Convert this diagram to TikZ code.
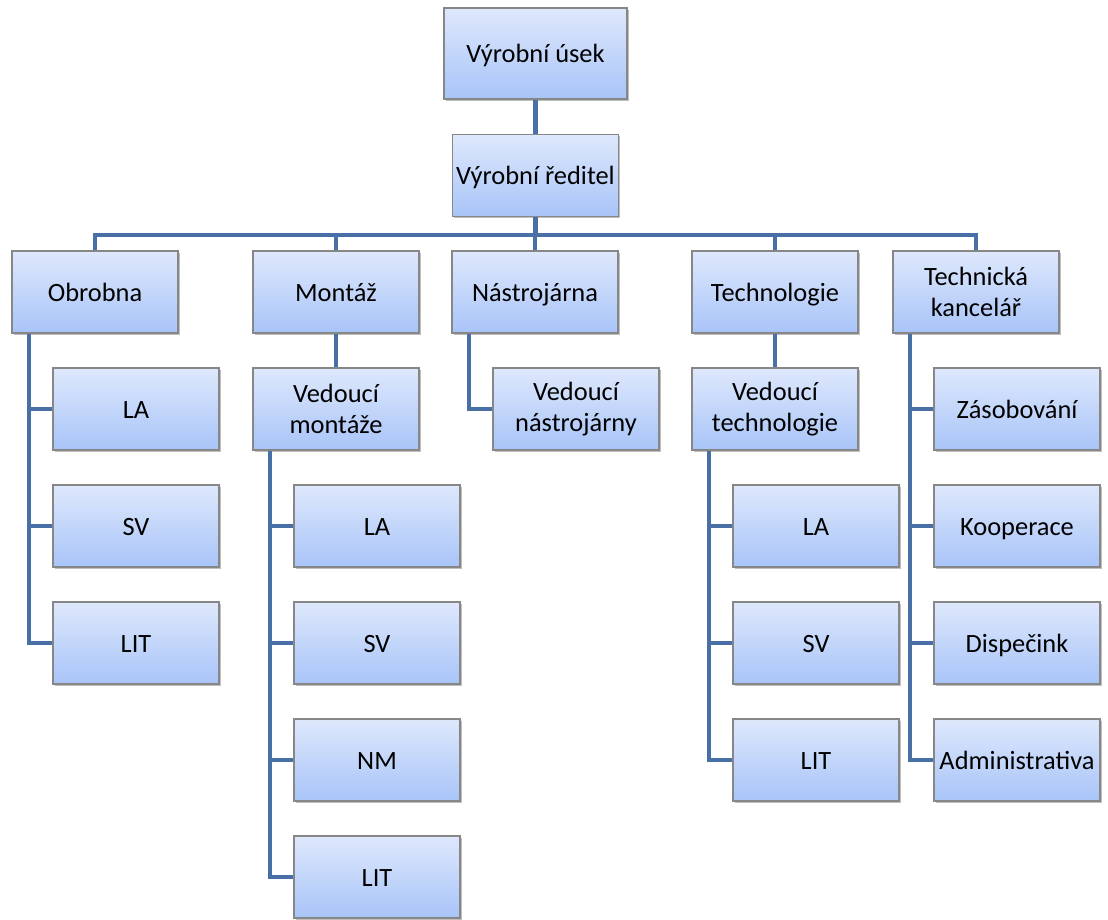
\documentclass[tikz,border=0pt]{standalone}
\usepackage{fontspec}
\setmainfont{Carlito}
\usetikzlibrary{shadows,calc}
\definecolor{boxtop}{RGB}{222,232,252}
\definecolor{boxbot}{RGB}{168,196,248}
\definecolor{boxedge}{RGB}{135,135,135}
\definecolor{linkblue}{RGB}{72,112,166}
\tikzset{
  unitbox/.style={draw=boxedge, line width=0.6pt, top color=boxtop, bottom color=boxbot,
    minimum width=83pt, minimum height=41pt, inner sep=1pt, align=center,
    font=\fontsize{13.2}{15.5}\selectfont,
    general shadow={shadow xshift=0.8pt, shadow yshift=-0.8pt, fill=black, opacity=0.25}},
  oneline/.style={unitbox, text height=9.3pt, text depth=0pt},
  headbox/.style={oneline, minimum width=91.5pt, minimum height=45.5pt},
  link/.style={draw=linkblue, line width=2.4pt}
}
\begin{document}
\begin{tikzpicture}[x=0.5pt, y=-0.5pt]
\useasboundingbox (0,0) rectangle (1108,920);

% top of the hierarchy
\node[headbox] (usek) at (535.5,53.5) {Výrobní úsek};
\node[oneline] (red) at (535.5,175.5) {Výrobní ředitel};

% departments
\node[oneline] (obr) at (95,292) {Obrobna};
\node[oneline] (mon) at (336,292) {Montáž};
\node[oneline] (nas) at (535,292) {Nástrojárna};
\node[oneline] (tec) at (775,292) {Technologie};
\node[unitbox] (tk)  at (976,292) {Technická\\kancelář};

% Obrobna
\node[oneline] (obrLA)  at (136,409) {LA};
\node[oneline] (obrSV)  at (136,526) {SV};
\node[oneline] (obrLIT) at (136,643) {LIT};

% Montáž
\node[unitbox] (vm)     at (336,409) {Vedoucí\\montáže};
\node[oneline] (monLA)  at (377,526) {LA};
\node[oneline] (monSV)  at (377,643) {SV};
\node[oneline] (monNM)  at (377,760) {NM};
\node[oneline] (monLIT) at (377,877) {LIT};

% Nástrojárna
\node[unitbox] (vn) at (576,409) {Vedoucí\\nástrojárny};

% Technologie
\node[unitbox] (vt)     at (775,409) {Vedoucí\\technologie};
\node[oneline] (tecLA)  at (816,526) {LA};
\node[oneline] (tecSV)  at (816,643) {SV};
\node[oneline] (tecLIT) at (816,760) {LIT};

% Technická kancelář
\node[oneline] (tkZ) at (1017,409) {Zásobování};
\node[oneline] (tkK) at (1017,526) {Kooperace};
\node[oneline] (tkD) at (1017,643) {Dispečink};
\node[oneline] (tkA) at (1017,760) {Administrativa};

% connectors
\coordinate (bus) at (535.5,235);
\draw[link] (usek.south) -- (red.north);
\draw[link] (red.south) -- (bus);
\foreach \d in {obr,mon,nas,tec,tk}
  \draw[link] (\d.north) |- (bus);

\coordinate (obrL) at ($(obr.south west)+(17.5,0)$);
\draw[link] (obrL) |- (obrLIT.west);
\foreach \c in {obrLA,obrSV}
  \draw[link] (obrL |- \c.west) -- (\c.west);

\draw[link] (mon.south) -- (vm.north);
\coordinate (vmL) at ($(vm.south west)+(17.5,0)$);
\draw[link] (vmL) |- (monLIT.west);
\foreach \c in {monLA,monSV,monNM}
  \draw[link] (vmL |- \c.west) -- (\c.west);

\coordinate (nasL) at ($(nas.south west)+(17.5,0)$);
\draw[link] (nasL) |- (vn.west);

\draw[link] (tec.south) -- (vt.north);
\coordinate (vtL) at ($(vt.south west)+(17.5,0)$);
\draw[link] (vtL) |- (tecLIT.west);
\foreach \c in {tecLA,tecSV}
  \draw[link] (vtL |- \c.west) -- (\c.west);

\coordinate (tkL) at ($(tk.south west)+(17.5,0)$);
\draw[link] (tkL) |- (tkA.west);
\foreach \c in {tkZ,tkK,tkD}
  \draw[link] (tkL |- \c.west) -- (\c.west);
\end{tikzpicture}
\end{document}
